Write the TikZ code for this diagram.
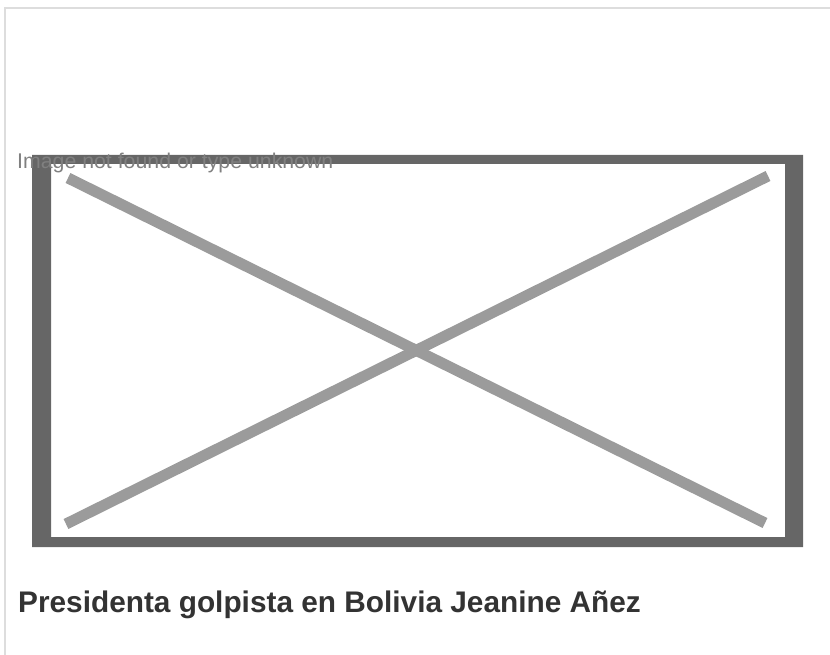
\documentclass[tikz,border=0pt]{standalone}
\usepackage{fontspec}
\setmainfont{Liberation Sans}
\usetikzlibrary{positioning}

\definecolor{pageLine}{HTML}{DDDDDD}
\definecolor{boxGray}{HTML}{666666}
\definecolor{crossGray}{HTML}{9B9B9B}
\definecolor{msgGray}{HTML}{808080}
\definecolor{titleGray}{HTML}{333333}

\tikzstyle{pageBorder} = [draw=pageLine, line width=2pt]
\tikzstyle{imgBox} = [fill=boxGray, even odd rule]
\tikzstyle{crossBar} = [draw=crossGray, line width=11pt]
\tikzstyle{msgText} = [anchor=base west, inner sep=0pt, text=msgGray, font=\fontsize{21.3}{25}\selectfont]
\tikzstyle{captionText} = [anchor=base west, inner sep=0pt, text=titleGray, font=\bfseries\fontsize{29.8}{35}\selectfont]

\begin{document}
\begin{tikzpicture}[x=1pt,y=-1pt]
  \useasboundingbox (0,0) rectangle (830,655);

  % page border, top and left only
  \draw [pageBorder] (5,655) -- (5,8) -- (830,8);

  % broken image placeholder
  \fill [imgBox] (32,155) rectangle (803,547) (51,164) rectangle (785,537);
  \coordinate (tl) at (68,178);
  \coordinate (br) at (765,523);
  \coordinate (tr) at (768,176);
  \coordinate (bl) at (66,524);
  \draw [crossBar] (tl) -- (br);
  \draw [crossBar] (tr) -- (bl);

  \node (msg)[msgText] at (17,169) {Image not found or type unknown};
  \node (caption)[captionText] at (18,612) {Presidenta golpista en Bolivia Jeanine Añez};
\end{tikzpicture}
\end{document}
